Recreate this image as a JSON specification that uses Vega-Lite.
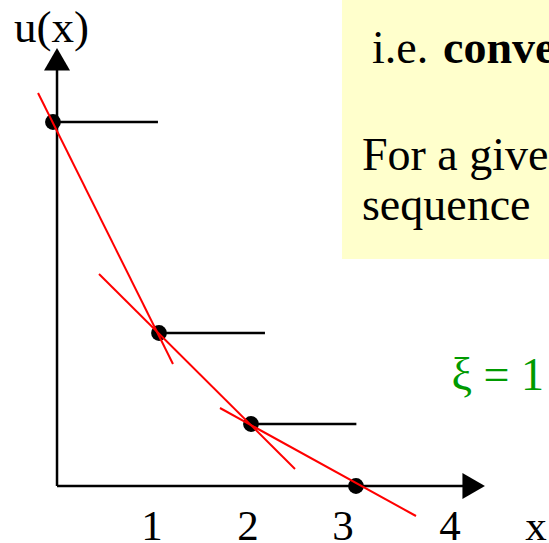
{
  "$schema": "https://vega.github.io/schema/vega-lite/v6.json",
  "width": 549,
  "height": 543,
  "autosize": "none",
  "padding": 0,
  "background": "white",
  "config": {"view": {"stroke": null}},
  "datasets": {
    "box": [{"x": 2.959, "x2": 5.108, "u": 2.27, "u2": 4.86}],
    "boxNormal": [
      {"x": 3.27, "u": 4.23, "text": "i.e."},
      {"x": 3.166, "u": 3.16, "text": "For a give"},
      {"x": 3.166, "u": 2.66, "text": "sequence"}
    ],
    "boxBold": [{"x": 4.008, "u": 4.23, "text": "conve"}],
    "green": [{"x": 4.095, "u": 0.96, "text": "ξ = 1"}],
    "ticks": [
      {"x": 0.986, "u": -0.54, "text": "1"},
      {"x": 1.983, "u": -0.54, "text": "2"},
      {"x": 2.969, "u": -0.54, "text": "3"},
      {"x": 4.08, "u": -0.54, "text": "4"},
      {"x": 4.973, "u": -0.54, "text": "x"}
    ],
    "yTitle": [{"x": -0.057, "u": 4.44, "text": "u(x)"}],
    "axes": [
      {"x": 0, "u": 0, "x2": 0, "u2": 4.2},
      {"x": 0, "u": 0, "x2": 4.3, "u2": 0}
    ],
    "arrowUp": [{"x": 0, "u": 4.267}],
    "arrowRight": [{"x": 4.326, "u": 0}],
    "steps": [
      {"x": -0.042, "u": 3.64, "x2": 1.048, "u2": 3.64},
      {"x": 1.059, "u": 1.53, "x2": 2.159, "u2": 1.53},
      {"x": 2.014, "u": 0.62, "x2": 3.108, "u2": 0.62}
    ],
    "points": [
      {"x": -0.042, "u": 3.64},
      {"x": 1.059, "u": 1.53},
      {"x": 2.014, "u": 0.62},
      {"x": 3.104, "u": 0}
    ],
    "tangents": [
      {"x": -0.197, "u": 3.93, "x2": 1.204, "u2": 1.22},
      {"x": 0.436, "u": 2.12, "x2": 2.471, "u2": 0.17},
      {"x": 1.692, "u": 0.78, "x2": 3.727, "u2": -0.3}
    ]
  },
  "encoding": {
    "x": {"field": "x", "type": "quantitative", "scale": {"domain": [-0.592, 5.108], "nice": false, "zero": false}, "axis": null},
    "y": {"field": "u", "type": "quantitative", "scale": {"domain": [-0.57, 4.86], "nice": false, "zero": false}, "axis": null}
  },
  "layer": [
    {
      "data": {"name": "box"},
      "mark": {"type": "rect", "color": "#ffffcc"},
      "encoding": {"x2": {"field": "x2"}, "y2": {"field": "u2"}}
    },
    {
      "data": {"name": "boxNormal"},
      "mark": {"type": "text", "font": "Liberation Serif", "fontSize": 46, "align": "left", "baseline": "alphabetic", "color": "black"},
      "encoding": {"text": {"field": "text"}}
    },
    {
      "data": {"name": "boxBold"},
      "mark": {"type": "text", "font": "Liberation Serif", "fontSize": 46, "fontWeight": "bold", "align": "left", "baseline": "alphabetic", "color": "black"},
      "encoding": {"text": {"field": "text"}}
    },
    {
      "data": {"name": "green"},
      "mark": {"type": "text", "font": "Liberation Serif", "fontSize": 46, "align": "left", "baseline": "alphabetic", "color": "#009a00"},
      "encoding": {"text": {"field": "text"}}
    },
    {
      "data": {"name": "ticks"},
      "mark": {"type": "text", "font": "Liberation Serif", "fontSize": 43, "align": "center", "baseline": "alphabetic", "color": "black"},
      "encoding": {"text": {"field": "text"}}
    },
    {
      "data": {"name": "yTitle"},
      "mark": {"type": "text", "font": "Liberation Serif", "fontSize": 45, "align": "center", "baseline": "alphabetic", "color": "black"},
      "encoding": {"text": {"field": "text"}}
    },
    {
      "data": {"name": "axes"},
      "mark": {"type": "rule", "color": "black", "strokeWidth": 2.5},
      "encoding": {"x2": {"field": "x2"}, "y2": {"field": "u2"}}
    },
    {
      "data": {"name": "arrowUp"},
      "mark": {"type": "point", "shape": "triangle-up", "filled": true, "color": "black", "size": 676, "opacity": 1},
      "encoding": {}
    },
    {
      "data": {"name": "arrowRight"},
      "mark": {"type": "point", "shape": "triangle-right", "filled": true, "color": "black", "size": 676, "opacity": 1},
      "encoding": {}
    },
    {
      "data": {"name": "steps"},
      "mark": {"type": "rule", "color": "black", "strokeWidth": 2.3},
      "encoding": {"x2": {"field": "x2"}, "y2": {"field": "u2"}}
    },
    {
      "data": {"name": "points"},
      "mark": {"type": "point", "shape": "circle", "filled": true, "color": "black", "size": 250, "opacity": 1},
      "encoding": {}
    },
    {
      "data": {"name": "tangents"},
      "mark": {"type": "rule", "color": "#ff0000", "strokeWidth": 2},
      "encoding": {"x2": {"field": "x2"}, "y2": {"field": "u2"}}
    }
  ]
}
